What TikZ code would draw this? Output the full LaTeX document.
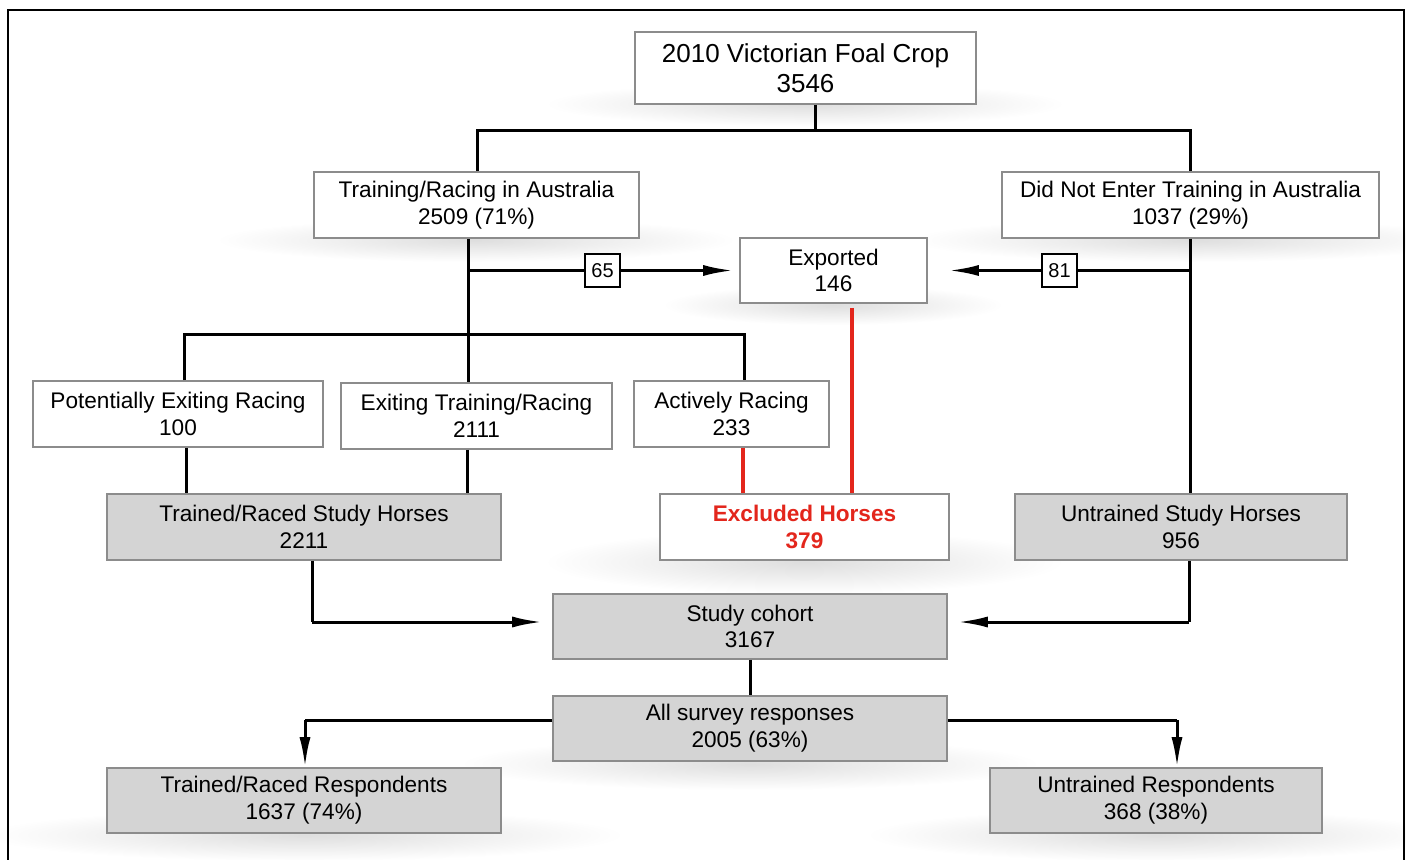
\documentclass[tikz,border=0pt]{standalone}
\usepackage{fontspec}
\setmainfont{Liberation Sans}
\usetikzlibrary{arrows.meta,calc}
\definecolor{boxborder}{HTML}{8C8C8C}
\definecolor{boxgray}{HTML}{D4D4D4}
\definecolor{exred}{HTML}{E3261C}
\begin{document}
\begin{tikzpicture}[x=0.5pt,y=-0.5pt,
  box/.style={draw=boxborder, line width=0.8pt, fill=white, align=center, inner sep=0pt,
    font=\fontsize{11.3}{13.4}\selectfont},
  gbox/.style={box, fill=boxgray},
  numbox/.style={draw=black, line width=0.8pt, fill=white, inner sep=0pt,
    minimum width=17.5pt, minimum height=16.5pt, font=\fontsize{10}{12}\selectfont},
  conn/.style={line width=1.5pt, black},
  redconn/.style={line width=1.7pt, exred},
  arr/.style={conn, -{Latex[length=15pt,width=5.5pt]}},
  shadow/.style={inner color=black!13, outer color=white}
]
\fill[white] (0,0) rectangle (1406,860);
\path[use as bounding box] (0,0) rectangle (1406,860);

% soft shadows
\shade[shadow] (805,104) ellipse (260 and 22);
\shade[shadow] (476,240) ellipse (260 and 22);
\shade[shadow] (1190,240) ellipse (280 and 22);
\shade[shadow] (833,305) ellipse (170 and 20);
\shade[shadow] (804,562) ellipse (260 and 32);
\shade[shadow] (750,764) ellipse (290 and 26);
\shade[shadow] (304,835) ellipse (320 and 26);
\shade[shadow] (1156,835) ellipse (290 and 26);

% frame
\draw[line width=1pt] (8,870) -- (8,10) -- (1404,10) -- (1404,870);

% nodes
\node[box, minimum width=170.5pt, minimum height=36pt, font=\fontsize{13}{15}\selectfont] (top) at (805.5,68) {2010 Victorian Foal Crop\\3546};
\node[box, minimum width=162.5pt, minimum height=33pt] (tra) at (476.5,205) {Training/Racing in Australia\\2509 (71\%)};
\node[box, minimum width=188.5pt, minimum height=33pt] (dne) at (1190.5,205) {Did Not Enter Training in Australia\\1037 (29\%)};
\node[box, minimum width=93.5pt, minimum height=32.5pt] (exp) at (833.5,270.5) {Exported\\146};
\node[box, minimum width=145pt, minimum height=33pt] (pot) at (178,414) {Potentially Exiting Racing\\100};
\node[box, minimum width=135.5pt, minimum height=33pt] (exi) at (476.5,416) {Exiting Training/Racing\\2111};
\node[box, minimum width=97.5pt, minimum height=33pt] (act) at (731.5,414) {Actively Racing\\233};
\node[gbox, minimum width=197pt, minimum height=33pt] (trsh) at (304,527) {Trained/Raced Study Horses\\2211};
\node[box, minimum width=144.5pt, minimum height=33pt, text=exred, font=\fontsize{11.3}{13.4}\selectfont\bfseries] (excl) at (804.5,527) {Excluded Horses\\379};
\node[gbox, minimum width=166pt, minimum height=33pt] (ush) at (1181,527) {Untrained Study Horses\\956};
\node[gbox, minimum width=197pt, minimum height=32.5pt] (coh) at (750,626.5) {Study cohort\\3167};
\node[gbox, minimum width=197pt, minimum height=32.5pt] (asr) at (750,728.5) {All survey responses\\2005 (63\%)};
\node[gbox, minimum width=197pt, minimum height=32.5pt] (trr) at (304,800.5) {Trained/Raced Respondents\\1637 (74\%)};
\node[gbox, minimum width=166pt, minimum height=32.5pt] (ur) at (1156,800.5) {Untrained Respondents\\368 (38\%)};
\node[numbox] (l65) at (602.5,270.5) {65};
\node[numbox] (l81) at (1059.5,270.5) {81};

% junction coordinates
\coordinate (j1) at (815,131);
\coordinate (jl) at (477,131);
\coordinate (jr) at (1190,131);
\coordinate (v1) at (468,335);
\coordinate (h1) at (468,270.5);
\coordinate (h2) at (1190,270.5);
\coordinate (a1) at (184,335);
\coordinate (a2) at (744,335);
\coordinate (b1) at (186,0);
\coordinate (b2) at (467,0);
\coordinate (r1) at (743,0);
\coordinate (r2) at (852,0);
\coordinate (c1) at (312,622);
\coordinate (c2) at (1189,622);
\coordinate (s1) at (750,0);
\coordinate (d1) at (305,720);
\coordinate (d2) at (1177,720);

% connectors
\draw[conn] (j1 |- top.south) -- (j1);
\draw[conn] (jl |- tra.north) -- (jl) -- (jr) -- (jr |- dne.north);
\draw[conn] (v1 |- tra.south) -- (v1);
\draw[conn] (h1) -- (l65.west);
\draw[arr, shorten >=3pt] (l65.east) -- (exp.west);
\draw[conn] (h2 |- dne.south) -- (h2 |- ush.north);
\draw[conn] (h2) -- (l81.east);
\draw[arr, shorten >=10.5pt] (l81.west) -- (exp.east);
\draw[conn] (a1 |- pot.north) -- (a1) -- (a2) -- (a2 |- act.north);
\draw[conn] (v1) -- (v1 |- exi.north);
\draw[conn] (b1 |- pot.south) -- (b1 |- trsh.north);
\draw[conn] (b2 |- exi.south) -- (b2 |- trsh.north);
\draw[redconn] (r1 |- act.south) -- (r1 |- excl.north);
\draw[redconn] ($(r2 |- exp.south)+(0,4)$) -- (r2 |- excl.north);
\draw[conn] (c1 |- trsh.south) -- (c1);
\draw[arr, shorten >=5pt] (c1) -- (c1 -| coh.west);
\draw[conn] (c2 |- ush.south) -- (c2);
\draw[arr, shorten >=5pt] (c2) -- (c2 -| coh.east);
\draw[conn] (s1 |- coh.south) -- (s1 |- asr.north);
\draw[conn] (d1 -| asr.west) -- (d1);
\draw[arr] (d1) -- (d1 |- trr.north);
\draw[conn] (d2 -| asr.east) -- (d2);
\draw[arr] (d2) -- (d2 |- ur.north);
\end{tikzpicture}
\end{document}
